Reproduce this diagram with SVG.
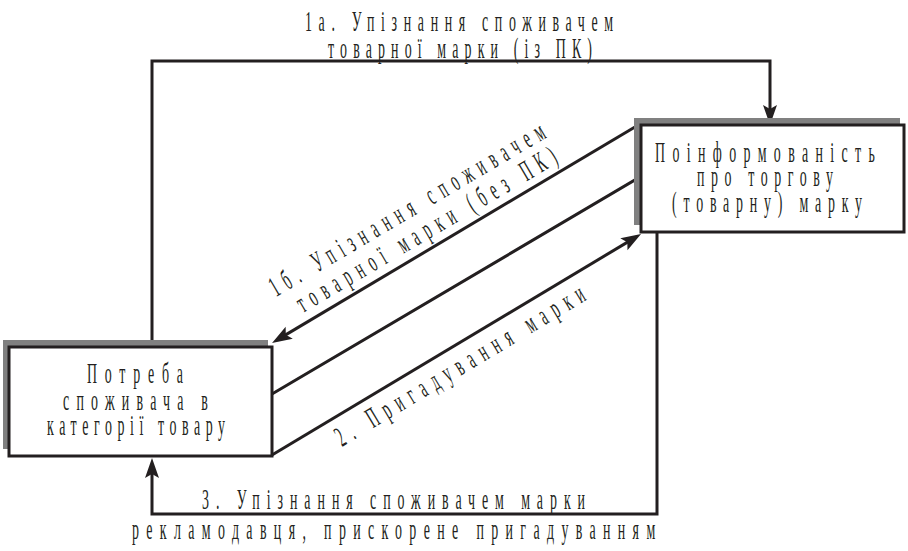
<svg xmlns="http://www.w3.org/2000/svg" width="908" height="551" viewBox="0 0 908 551">
<style>
  .shadow { fill: #808080; }
  .box { fill: #ffffff; stroke: #231f20; stroke-width: 3; }
  .conn { fill: none; stroke: #231f20; stroke-width: 3; }
  text { font-family: "Liberation Serif", "Times New Roman", serif; font-size: 29px; fill: #231f20; }
</style>
<defs>
  <marker id="arr" markerUnits="userSpaceOnUse" markerWidth="24" markerHeight="16" viewBox="0 -8 22 16" refX="14" refY="0" orient="auto">
    <path d="M20,0 L0,-7 L4,0 L0,7 Z" fill="#231f20"/>
  </marker>
</defs>

<g id="connectors">
  <path class="conn" d="M152,347 V61 H770 V119" marker-end="url(#arr)"/>
  <path class="conn" d="M640,124 L277.2,339.9" marker-end="url(#arr)"/>
  <path class="conn" d="M272,455 L635.9,237.1" marker-end="url(#arr)"/>
  <path class="conn" d="M272,394 L657,167 V514 H152 V464" marker-end="url(#arr)"/>
</g>

<g id="node-awareness">
  <rect class="shadow" x="634" y="118" width="266" height="107"/>
  <rect class="box" x="641" y="125" width="263" height="107"/>
  <text transform="translate(655,162) scale(0.48,1)" textLength="458" lengthAdjust="spacing">Поінформованість</text>
  <text transform="translate(697,186) scale(0.48,1)" textLength="283" lengthAdjust="spacing">про торгову</text>
  <text transform="translate(672,212) scale(0.48,1)" textLength="396" lengthAdjust="spacing">(товарну) марку</text>
</g>

<g id="node-need">
  <rect class="shadow" x="3" y="340" width="265" height="109"/>
  <rect class="box" x="9" y="347" width="263" height="109"/>
  <text transform="translate(87,383) scale(0.48,1)" textLength="200" lengthAdjust="spacing">Потреба</text>
  <text transform="translate(63,410) scale(0.48,1)" textLength="302" lengthAdjust="spacing">споживача в</text>
  <text transform="translate(47,435) scale(0.48,1)" textLength="371" lengthAdjust="spacing">категорії товару</text>
</g>

<g id="labels">
  <text transform="translate(305,31) scale(0.48,1)" textLength="642" lengthAdjust="spacing">1а. Упізнання споживачем</text>
  <text transform="translate(328,58) scale(0.48,1)" textLength="550" lengthAdjust="spacing">товарної марки (із ПК)</text>
  <text transform="translate(276,297) rotate(-30.5) scale(0.48,1)" textLength="656" lengthAdjust="spacing">1б. Упізнання споживачем</text>
  <text transform="translate(303,313) rotate(-30.5) scale(0.48,1)" textLength="619" lengthAdjust="spacing">товарної марки (без ПК)</text>
  <text transform="translate(342,447) rotate(-31) scale(0.48,1)" textLength="596" lengthAdjust="spacing">2. Пригадування марки</text>
  <text transform="translate(202,509) scale(0.48,1)" textLength="798" lengthAdjust="spacing">3. Упізнання споживачем марки</text>
  <text transform="translate(132,539) scale(0.48,1)" textLength="1090" lengthAdjust="spacing">рекламодавця, прискорене пригадуванням</text>
</g>
</svg>
